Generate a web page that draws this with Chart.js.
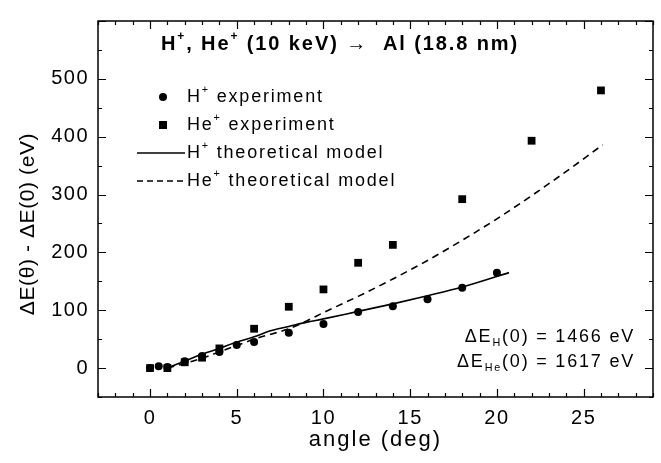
<!DOCTYPE html>
<html>
<head>
<meta charset="utf-8">
<script src="https://cdn.jsdelivr.net/npm/chart.js@4.4.0/dist/chart.umd.min.js"></script>
<style>
    html, body { margin: 0; padding: 0; background: #fff; }
</style>
</head>
<body>
<canvas id="chart" width="661" height="463"></canvas>
<script>
// H+ experiment (circles)
var hExpAngle = [0, 0.5, 1, 2, 3, 4, 5, 6, 8, 10, 12, 14, 16, 18, 20];
var hExpValue = [0, 3, 2, 12, 21, 28, 40, 45, 61, 76, 97, 107, 119, 139, 165];
// He+ experiment (squares)
var heExpAngle = [0, 1, 2, 3, 4, 6, 8, 10, 12, 14, 18, 22, 26];
var heExpValue = [0, 0, 10, 18, 34, 68, 106, 136, 182, 213, 292, 393, 480];
// H+ theoretical model
var hModelAngle = [1, 2, 3, 4, 5, 6, 7, 8, 9, 10, 12, 14, 16, 18, 20.7];
var hModelValue = [0, 12, 24, 34, 45, 54, 65, 72, 79, 85, 98, 111, 125, 140, 165];
// He+ theoretical model
var heModelAngle = [1, 2, 3, 4, 5, 6, 8, 9, 10, 11, 12, 14, 16, 18, 20, 22, 24, 26.1];
var heModelValue = [0, 8, 17, 28, 39, 50, 68, 81, 96, 110, 124, 154, 186, 221, 258, 298, 340, 386];

var xTickLabels = [0, 5, 10, 15, 20, 25];
var yTickLabels = [0, 100, 200, 300, 400, 500];

var FONT = '"Liberation Sans", Arial, sans-serif';

function pts(xs, ys) {
    return xs.map(function (x, i) { return { x: x, y: ys[i] }; });
}

// draws text made of plain / superscript / subscript pieces
function richText(ctx, parts, x, y, size, opts) {
    opts = opts || {};
    var weight = opts.bold ? 'bold ' : '';
    ctx.letterSpacing = (opts.spacing || 0) + 'px';
    ctx.textAlign = 'left';
    ctx.textBaseline = 'middle';
    var widths = parts.map(function (p) {
        ctx.font = weight + (p[1] ? size * 0.6 : size) + 'px ' + FONT;
        return ctx.measureText(p[0]).width;
    });
    var total = widths.reduce(function (a, b) { return a + b; }, 0);
    var cx = x;
    if (opts.align === 'right') cx = x - total;
    if (opts.align === 'center') cx = x - total / 2;
    parts.forEach(function (p, i) {
        ctx.font = weight + (p[1] ? size * 0.6 : size) + 'px ' + FONT;
        var dy = p[1] === 'sup' ? -size * 0.38 : (p[1] === 'sub' ? size * 0.32 : 0);
        ctx.fillText(p[0], cx, y + dy);
        cx += widths[i];
    });
}

var frame = {
    id: 'frame',
    beforeDraw: function (chart) {
        chart.ctx.letterSpacing = '1.5px';
    },
    afterDraw: function (chart) {
        var ctx = chart.ctx;
        var a = chart.chartArea;
        var xs = chart.scales.x, ys = chart.scales.y;
        ctx.save();
        ctx.strokeStyle = '#000';
        ctx.fillStyle = '#000';
        ctx.lineWidth = 1.5;
        ctx.strokeRect(a.left, a.top, a.right - a.left, a.bottom - a.top);

        // inward ticks on all four sides
        ctx.beginPath();
        for (var v = -3; v <= 29; v++) {
            var px = Math.round(xs.getPixelForValue(v)) + 0.5;
            var len = v % 5 === 0 ? 8 : 4;
            ctx.moveTo(px, a.bottom); ctx.lineTo(px, a.bottom - len);
            ctx.moveTo(px, a.top); ctx.lineTo(px, a.top + len);
        }
        for (var w = -50; w <= 600; w += 50) {
            var py = Math.round(ys.getPixelForValue(w)) + 0.5;
            var l2 = w % 100 === 0 ? 8 : 4;
            ctx.moveTo(a.left, py); ctx.lineTo(a.left + l2, py);
            ctx.moveTo(a.right, py); ctx.lineTo(a.right - l2, py);
        }
        ctx.lineWidth = 1.2;
        ctx.stroke();

        // axis titles
        richText(ctx, [['angle (deg)']], (a.left + a.right) / 2, 440, 22, { align: 'center', spacing: 2 });
        ctx.save();
        ctx.translate(28, 224);
        ctx.rotate(-Math.PI / 2);
        richText(ctx, [['ΔE(θ) - ΔE(0) (eV)']], 0, 0, 21, { align: 'center', spacing: 0.6 });
        ctx.restore();

        // title
        richText(ctx, [['H'], ['+', 'sup'], [', He'], ['+', 'sup'], [' (10 keV) \u2192  Al (18.8 nm)']],
            340, 44, 20, { align: 'center', bold: true, spacing: 1.9 });

        // legend
        var rows = [97, 125, 153, 181];
        ctx.beginPath();
        ctx.arc(163, rows[0], 4, 0, Math.PI * 2);
        ctx.fill();
        ctx.fillRect(159, rows[1] - 4, 8, 8);
        ctx.lineWidth = 1.5;
        ctx.beginPath();
        ctx.moveTo(137, rows[2]); ctx.lineTo(185, rows[2]);
        ctx.stroke();
        ctx.setLineDash([6, 4]);
        ctx.beginPath();
        ctx.moveTo(137, rows[3]); ctx.lineTo(185, rows[3]);
        ctx.stroke();
        ctx.setLineDash([]);
        richText(ctx, [['H'], ['+', 'sup'], [' experiment']], 187, rows[0], 18, { spacing: 1.8 });
        richText(ctx, [['He'], ['+', 'sup'], [' experiment']], 187, rows[1], 18, { spacing: 1.8 });
        richText(ctx, [['H'], ['+', 'sup'], [' theoretical model']], 187, rows[2], 18, { spacing: 1.8 });
        richText(ctx, [['He'], ['+', 'sup'], [' theoretical model']], 187, rows[3], 18, { spacing: 1.8 });

        // stopping at zero angle
        richText(ctx, [['ΔE'], ['H', 'sub'], ['(0) = 1466 eV']], 635, 337, 18, { align: 'right', spacing: 1.8 });
        richText(ctx, [['ΔE'], ['He', 'sub'], ['(0) = 1617 eV']], 635, 362, 18, { align: 'right', spacing: 1.8 });
        ctx.restore();
    }
};

var ctx = document.getElementById('chart').getContext('2d');

var chart = new Chart(ctx, {
    type: 'scatter',
    data: {
        datasets: [{
            label: 'H+ experiment',
            data: pts(hExpAngle, hExpValue),
            pointStyle: 'circle',
            pointRadius: 4,
            backgroundColor: '#000',
            borderColor: '#000',
            borderWidth: 0
        }, {
            label: 'He+ experiment',
            data: pts(heExpAngle, heExpValue),
            pointStyle: 'rect',
            pointRadius: 5.5,
            backgroundColor: '#000',
            borderColor: '#000',
            borderWidth: 0
        }, {
            type: 'line',
            label: 'H+ theoretical model',
            data: pts(hModelAngle, hModelValue),
            borderColor: '#000',
            borderWidth: 1.6,
            pointRadius: 0,
            cubicInterpolationMode: 'monotone',
            fill: false
        }, {
            type: 'line',
            label: 'He+ theoretical model',
            data: pts(heModelAngle, heModelValue),
            borderColor: '#000',
            borderWidth: 1.6,
            borderDash: [7, 5],
            pointRadius: 0,
            cubicInterpolationMode: 'monotone',
            fill: false
        }]
    },
    options: {
        responsive: false,
        animation: false,
        layout: {
            padding: { top: 10, right: 8, left: 0, bottom: 0 }
        },
        plugins: {
            legend: { display: false },
            tooltip: { enabled: false }
        },
        scales: {
            x: {
                type: 'linear',
                min: -3,
                max: 29,
                afterFit: function (s) { s.height = 66; },
                grid: { display: false, drawTicks: false },
                border: { display: false },
                ticks: {
                    stepSize: 5,
                    autoSkip: false,
                    maxRotation: 0,
                    padding: 9,
                    color: '#000',
                    font: { family: FONT, size: 20 },
                    callback: function (v) { return xTickLabels.indexOf(v) >= 0 ? v : null; }
                }
            },
            y: {
                min: -50,
                max: 600,
                afterFit: function (s) { s.width = 98; },
                grid: { display: false, drawTicks: false },
                border: { display: false },
                ticks: {
                    stepSize: 100,
                    autoSkip: false,
                    padding: 9,
                    color: '#000',
                    font: { family: FONT, size: 20 },
                    callback: function (v) { return yTickLabels.indexOf(v) >= 0 ? v : null; }
                }
            }
        }
    },
    plugins: [frame]
});
</script>
</body>
</html>
